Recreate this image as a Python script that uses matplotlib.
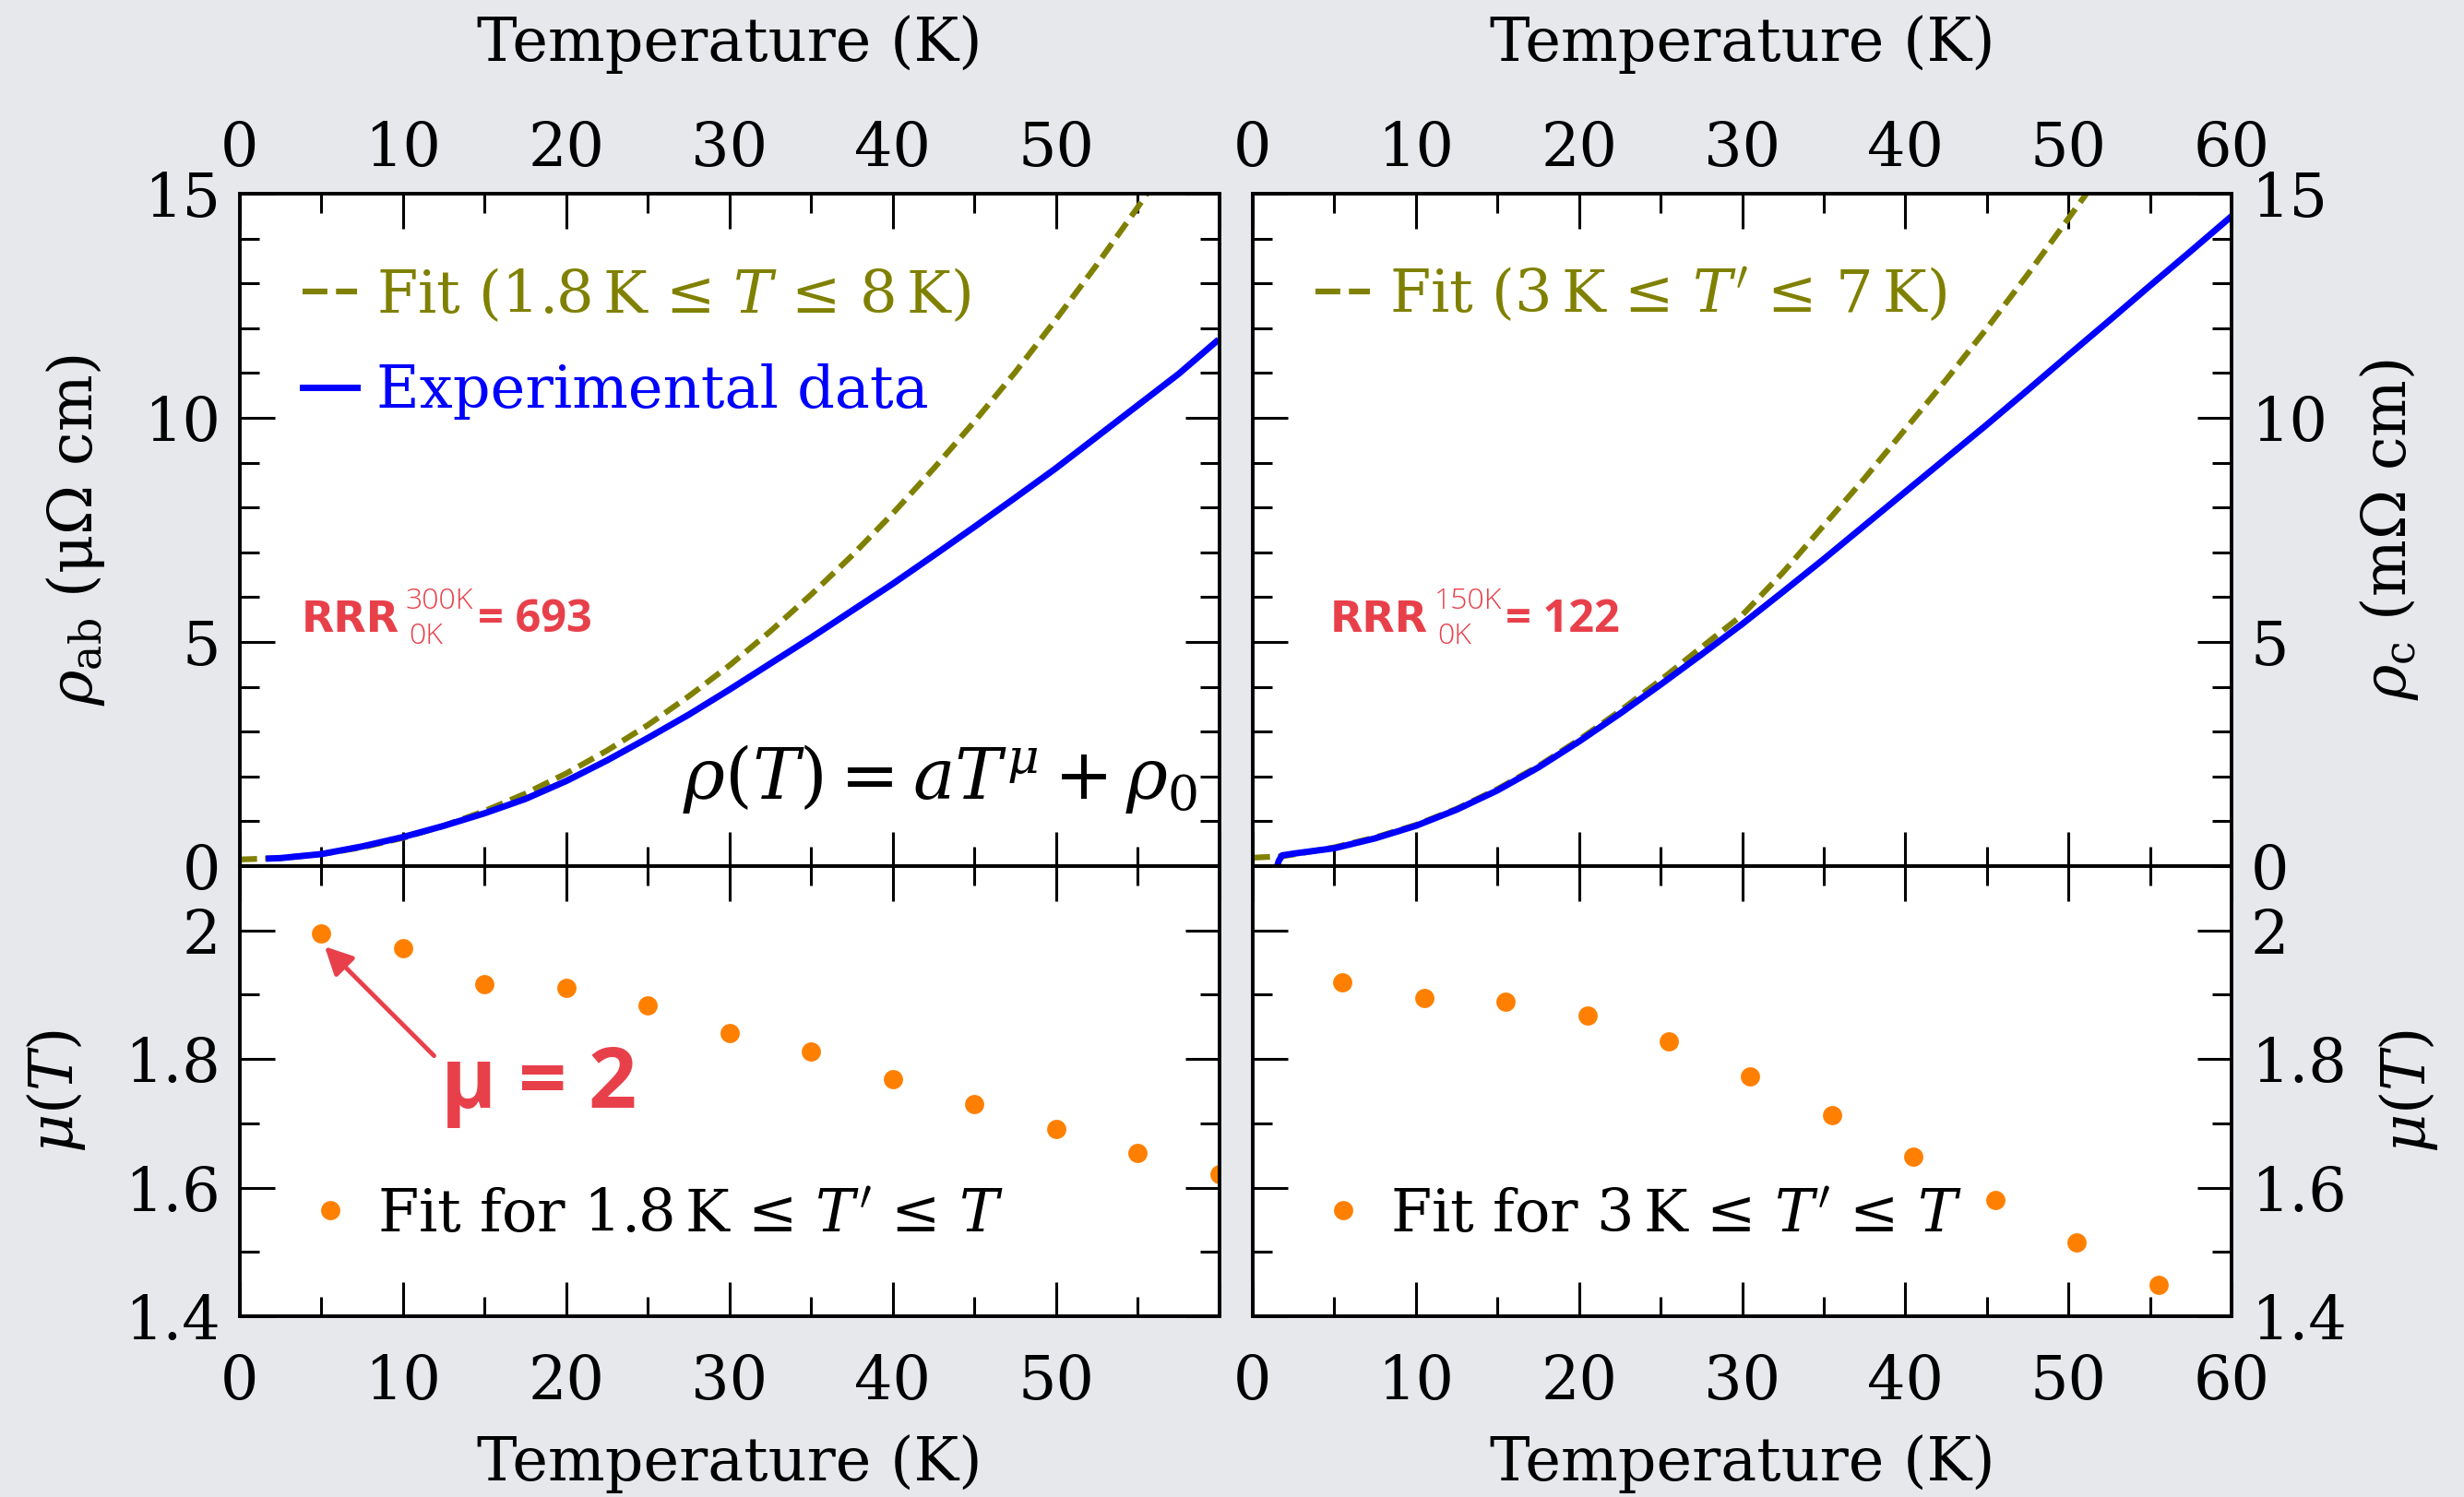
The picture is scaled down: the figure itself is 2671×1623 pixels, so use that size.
import matplotlib
matplotlib.use("Agg")
import matplotlib.pyplot as plt
from matplotlib.ticker import MultipleLocator, FuncFormatter

plt.rcParams["font.family"] = ["DejaVu Serif"]
plt.rcParams["mathtext.fontset"] = "dejavuserif"

BG = "#e6e8ec"
OLIVE = "#808000"
BLUE = "#0000ff"
ORANGE = "#ff8000"
RED = "#e8404a"

# rho_ab: experimental data and fit (left column)
T_ab = [1.8, 2.5, 5, 7.5, 10, 12.5, 15, 17.5, 20, 22.5, 25, 27.5, 30, 32.5,
        35, 37.5, 40, 42.5, 45, 47.5, 50, 52.5, 55, 57.5, 59.8]
rho_ab = [0.17, 0.18, 0.27, 0.44, 0.65, 0.9, 1.18, 1.5, 1.9, 2.36, 2.86, 3.38,
          3.94, 4.52, 5.1, 5.7, 6.3, 6.93, 7.57, 8.22, 8.88, 9.58, 10.28, 10.98, 11.7]
T_fit_ab = [0, 2.5, 5, 7.5, 10, 12.5, 15, 17.5, 20, 22.5, 25, 27.5, 30, 32.5,
            35, 37.5, 40, 42.5, 45, 47.5, 50, 52.5, 55, 57.5]
rho_fit_ab = [0.15, 0.18, 0.27, 0.42, 0.63, 0.9, 1.23, 1.62, 2.07, 2.58, 3.15, 3.79,
              4.48, 5.24, 6.06, 6.93, 7.87, 8.87, 9.92, 11.02, 12.2, 13.42, 14.7, 16.05]

# rho_c: experimental data and fit (right column)
T_c = [1.5, 1.6, 1.8, 2.5, 5, 7.5, 10, 12.5, 15, 17.5, 20, 22.5, 25, 27.5, 30,
       32.5, 35, 37.5, 40, 42.5, 45, 47.5, 50, 52.5, 55, 57.5, 60]
rho_c = [0.0, 0.12, 0.24, 0.28, 0.40, 0.62, 0.9, 1.26, 1.69, 2.2, 2.78, 3.4, 4.05,
         4.72, 5.4, 6.12, 6.85, 7.6, 8.35, 9.1, 9.85, 10.62, 11.4, 12.17, 12.95,
         13.72, 14.5]
T_fit_c = [0, 1.8, 2.5, 5, 7.5, 10, 12.5, 15, 17.5, 20, 22.5, 25, 27.5, 30, 32.5,
           35, 37.5, 40, 42.5, 45, 47.5, 50, 52.5]
rho_fit_c = [0.19, 0.22, 0.26, 0.42, 0.64, 0.92, 1.28, 1.72, 2.23, 2.82, 3.46, 4.15,
             4.88, 5.6, 6.55, 7.6, 8.65, 9.75, 10.85, 12.0, 13.2, 14.45, 15.7]

# exponent mu(T)
T_mu_ab = [5, 10, 15, 20, 25, 30, 35, 40, 45, 50, 55, 60]
mu_ab = [1.995, 1.973, 1.916, 1.911, 1.883, 1.841, 1.812, 1.769, 1.730, 1.691,
         1.654, 1.621]
T_mu_c = [5.5, 10.5, 15.5, 20.5, 25.5, 30.5, 35.5, 40.5, 45.5, 50.5, 55.5]
mu_c = [1.919, 1.895, 1.889, 1.868, 1.828, 1.773, 1.713, 1.648, 1.581, 1.514, 1.448]

FS = 47
LFS = 46

fig = plt.figure(figsize=(26.71, 16.23), dpi=100, facecolor=BG)
L0, L1 = 0.0973, 0.4949
R0, R1 = 0.5084, 0.9057
yb, ym, yt = 0.1208, 0.4214, 0.8706
ax_tl = fig.add_axes([L0, ym, L1 - L0, yt - ym])
ax_tr = fig.add_axes([R0, ym, R1 - R0, yt - ym])
ax_bl = fig.add_axes([L0, yb, L1 - L0, ym - yb])
ax_br = fig.add_axes([R0, yb, R1 - R0, ym - yb])


def style(ax, top, left, hide60):
    ax.set_facecolor("white")
    for s in ax.spines.values():
        s.set_linewidth(2.8)
    ax.set_xlim(0, 60)
    ax.xaxis.set_major_locator(MultipleLocator(10))
    ax.xaxis.set_minor_locator(MultipleLocator(5))
    if hide60:
        ax.xaxis.set_major_formatter(FuncFormatter(lambda v, p: "" if v > 55 else f"{v:g}"))
    else:
        ax.xaxis.set_major_formatter(FuncFormatter(lambda v, p: f"{v:g}"))
    ax.yaxis.set_major_formatter(FuncFormatter(lambda v, p: f"{round(v, 2):g}"))
    ax.tick_params(which="both", direction="in", top=True, bottom=True,
                   left=True, right=True, width=2.2, labelsize=FS,
                   labeltop=top, labelbottom=not top,
                   labelleft=left, labelright=not left)
    ax.tick_params(which="major", length=27)
    ax.tick_params(which="minor", length=15)
    ax.tick_params(axis="y", which="both", pad=15)
    if top:
        ax.tick_params(axis="x", which="both", pad=11.5)
        ax.xaxis.set_label_position("top")
        ax.set_xlabel("Temperature (K)", fontsize=FS, labelpad=46)
    else:
        ax.tick_params(axis="x", which="both", pad=29)
        ax.set_xlabel("Temperature (K)", fontsize=FS, labelpad=17)
    if not left:
        ax.yaxis.set_label_position("right")


for ax, top, left in [(ax_tl, True, True), (ax_tr, True, False),
                      (ax_bl, False, True), (ax_br, False, False)]:
    style(ax, top, left, left)

for ax in (ax_tl, ax_tr):
    ax.set_ylim(0, 15)
    ax.yaxis.set_major_locator(MultipleLocator(5))
    ax.yaxis.set_minor_locator(MultipleLocator(1))
for ax in (ax_bl, ax_br):
    ax.set_ylim(1.4, 2.1)
    ax.yaxis.set_major_locator(MultipleLocator(0.2))
    ax.yaxis.set_minor_locator(MultipleLocator(0.1))

# top-left: rho_ab
fit_l, = ax_tl.plot(T_fit_ab, rho_fit_ab, color=OLIVE, lw=4.5, dashes=(3.0, 1.4),
                    label=r"Fit (1.8$\,$K ≤ $T$ ≤ 8$\,$K)")
exp_l, = ax_tl.plot(T_ab, rho_ab, color=BLUE, lw=5, label="Experimental data")
leg = ax_tl.legend(handles=[fit_l, exp_l], loc="center left", bbox_to_anchor=(0.064, 0.778),
                   frameon=False, fontsize=LFS, handlelength=0.93, handletextpad=0.32,
                   labelspacing=0.66, borderpad=0, borderaxespad=0, labelcolor="linecolor")
leg.get_lines()[0].set_dashes((4.3, 1.5))
ax_tl.set_ylabel(r"$\rho_{\rm ab}$ (μΩ cm)", fontsize=FS, labelpad=29)
ax_tl.text(0.978, 0.13, r"$\rho(T) = aT^{\mu} + \rho_0$", transform=ax_tl.transAxes,
           ha="right", va="center", fontsize=55)

# top-right: rho_c
fit_r, = ax_tr.plot(T_fit_c, rho_fit_c, color=OLIVE, lw=4.5, dashes=(3.0, 1.4),
                    label=r"Fit (3$\,$K ≤ $T'$ ≤ 7$\,$K)")
ax_tr.plot(T_c, rho_c, color=BLUE, lw=5)
leg = ax_tr.legend(handles=[fit_r], loc="center left", bbox_to_anchor=(0.064, 0.849),
                   frameon=False, fontsize=LFS, handlelength=0.93, handletextpad=0.32,
                   borderpad=0, borderaxespad=0, labelcolor="linecolor")
leg.get_lines()[0].set_dashes((4.3, 1.5))
ax_tr.set_ylabel(r"$\rho_{\rm c}$ (mΩ cm)", fontsize=FS, labelpad=24)


def rrr(ax, x, top, val):
    kw = dict(transform=ax.transAxes, color=RED, va="baseline")
    ax.text(x[0], 0.348, "RRR", fontsize=33, fontweight="bold", family="DejaVu Sans", **kw)
    ax.text(x[1], 0.383, top, fontsize=23, fontweight="light", family="Open Sans", **kw)
    ax.text(x[1] + 0.003, 0.331, "0K", fontsize=23, fontweight="light", family="Open Sans", **kw)
    ax.text(x[2], 0.348, "= " + val, fontsize=35, fontweight="bold", family="Open Sans", **kw)


rrr(ax_tl, (0.063, 0.1695, 0.243), "300K", "693")
rrr(ax_tr, (0.079, 0.186, 0.258), "150K", "122")

# bottom panels: mu(T)
pts_l, = ax_bl.plot(T_mu_ab, mu_ab, ls="none", marker="o", ms=15, color=ORANGE,
                    mec="none", label=r"Fit for 1.8$\,$K ≤ $T'$ ≤ $T$")
pts_r, = ax_br.plot(T_mu_c, mu_c, ls="none", marker="o", ms=15, color=ORANGE,
                    mec="none", label=r"Fit for 3$\,$K ≤ $T'$ ≤ $T$")
for ax, h in [(ax_bl, pts_l), (ax_br, pts_r)]:
    ax.legend(handles=[h], loc="center left", bbox_to_anchor=(0.068, 0.225),
              frameon=False, fontsize=LFS, handlelength=0.8, handletextpad=0.4,
              borderpad=0, borderaxespad=0, numpoints=1)
ax_bl.set_ylabel(r"$\mu(T)$", fontsize=FS, labelpad=29)
ax_br.set_ylabel(r"$\mu(T)$", fontsize=FS, labelpad=24)

ax_bl.annotate("", xy=(5.2, 1.975), xytext=(11.9, 1.805),
               arrowprops=dict(arrowstyle="-|>", color=RED, lw=3.5, mutation_scale=45,
                               shrinkA=0, shrinkB=0))
ax_bl.text(12.3, 1.724, "μ = 2", color=RED, family="Open Sans", fontweight="bold",
           fontsize=66, ha="left", va="baseline")

fig.savefig("out.png", dpi=100, facecolor=BG)
